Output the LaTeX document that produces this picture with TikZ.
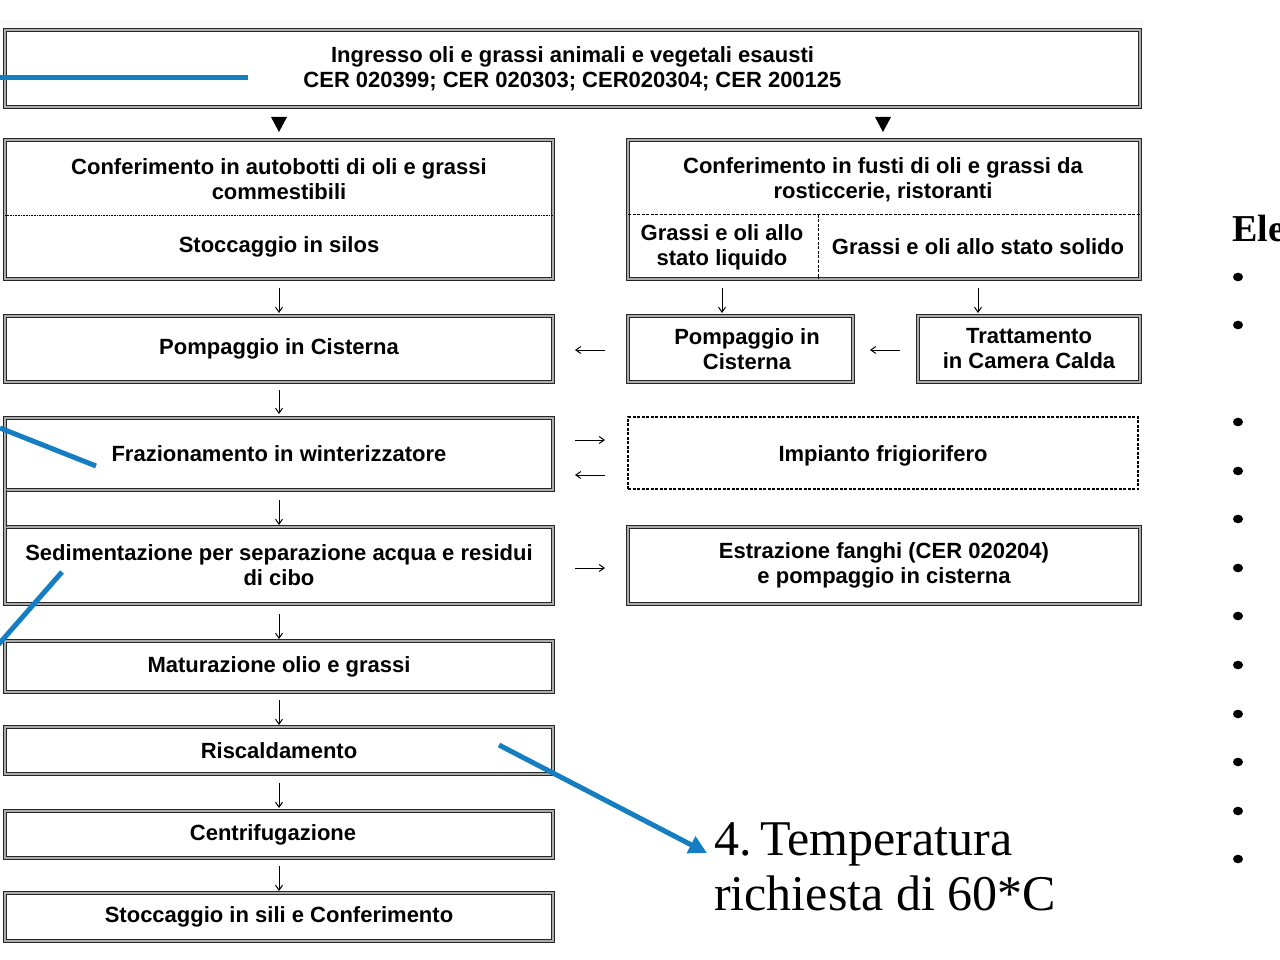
\documentclass[tikz,border=0pt]{standalone}
\usepackage{fontspec}
\newfontfamily\sansb{Liberation Sans}
\newfontfamily\serifa{Liberation Serif}
\usetikzlibrary{arrows.meta,calc}
\definecolor{annblue}{RGB}{21,125,193}
\begin{document}
\begin{tikzpicture}[x=1pt,y=-1pt,
  boxfont/.style={font=\sansb\bfseries\fontsize{22}{25}\selectfont},
  box/.style={draw=black!85, double=gray!65, double distance=1.3pt, line width=0.9pt, inner sep=0pt, outer sep=0pt, align=center, boxfont},
  dbox/.style={draw=black, dash pattern=on 3pt off 1.5pt, line width=1.1pt, inner sep=0pt, outer sep=0pt, align=center, boxfont},
  lbl/.style={boxfont, align=center, inner sep=0pt},
  flow/.style={-{Straight Barb[length=5pt,width=7pt]}, line width=1pt},
  divdot/.style={line width=0.8pt, dash pattern=on 1pt off 0.6pt},
  divdash/.style={line width=1pt, dash pattern=on 3pt off 1.5pt},
  bluel/.style={draw=annblue, line width=5pt},
  blt/.style={fill=black},
]
\useasboundingbox (0,0) rectangle (1280,960);
\clip (0,0) rectangle (1280,960);
\fill[gray!5] (0,20) rectangle (1143,29);

% boxes
\node[box, minimum width=1135pt, minimum height=77pt] (top) at (572.5,68.5)
  {Ingresso oli e grassi animali e vegetali esausti\\CER 020399; CER 020303; CER020304; CER 200125};
\node[box, minimum width=548pt, minimum height=139pt] (l1) at (279,209.5) {};
\node[lbl] (l1a) at (279,179.5) {Conferimento in autobotti di oli e grassi\\commestibili};
\node[lbl] (l1b) at (279,247) {Stoccaggio in silos};
\draw[divdot] ([yshift=-75pt]l1.north west) -- ([yshift=-75pt]l1.north east);

\node[box, minimum width=512pt, minimum height=139pt] (r1) at (884,209.5) {};
\node[lbl] (r1a) at (883,179.5) {Conferimento in fusti di oli e grassi da\\rosticcerie, ristoranti};
\node[lbl] (r1l) at (722,247.5) {Grassi e oli allo\\stato liquido};
\node[lbl] (r1s) at (978,247) {Grassi e oli allo stato solido};
\draw[divdash] ([yshift=-75pt]r1.north west) -- ([yshift=-75pt]r1.north east);
\coordinate (rdiv) at (818,215);
\draw[divdash] (rdiv) -- (rdiv |- r1.south);

\node[box, minimum width=548pt, minimum height=66pt] (pl) at (279,349) {Pompaggio in Cisterna};
\node[box, minimum width=225pt, minimum height=66pt] (pr) at (740.5,349) {};
\node[lbl] (prt) at (747,349.5) {Pompaggio in\\Cisterna};
\node[box, minimum width=222pt, minimum height=66pt] (tr) at (1029,349) {Trattamento\\in Camera Calda};

\node[box, minimum width=548pt, minimum height=72pt] (fr) at (279,454) {Frazionamento in winterizzatore};
\node[dbox, minimum width=510pt, minimum height=72pt] (fg) at (883,453) {};
\node[lbl] (fgt) at (883,456) {Impianto frigiorifero};

\node[box, minimum width=548pt, minimum height=77pt] (sd) at (279,565.5) {Sedimentazione per separazione acqua e residui\\di cibo};
\node[box, minimum width=512pt, minimum height=77pt] (ef) at (884,565.5) {Estrazione fanghi (CER 020204)\\e pompaggio in cisterna};

\node[box, minimum width=548pt, minimum height=51pt] (mt) at (279,666.5) {Maturazione olio e grassi};
\node[box, minimum width=548pt, minimum height=47pt] (rs) at (279,750.5) {Riscaldamento};
\node[box, minimum width=548pt, minimum height=47pt] (cf) at (279,834.5) {};
\node[lbl] (cft) at (273,835) {Centrifugazione};
\node[box, minimum width=548pt, minimum height=48pt] (st) at (279,917) {Stoccaggio in sili e Conferimento};

% left edge line between Frazionamento and Sedimentazione
\draw[draw=black!85, double=gray!65, double distance=1.3pt, line width=0.9pt] (fr.south west) -- (sd.north west);

% triangles from top box
\coordinate (t1) at (279,117);
\coordinate (t2) at (883,117);
\fill ($(t1)+(-8,0)$) -- ($(t1)+(8,0)$) -- ($(t1)+(0,15)$) -- cycle;
\fill ($(t2)+(-8,0)$) -- ($(t2)+(8,0)$) -- ($(t2)+(0,15)$) -- cycle;

% vertical flow arrows
\draw[flow, shorten <=9pt, shorten >=3pt] (l1.south) -- (pl.north);
\draw[flow, shorten <=8pt, shorten >=4pt] (pl.south) -- (fr.north);
\draw[flow, shorten <=10pt, shorten >=2pt] (fr.south) -- (sd.north);
\draw[flow, shorten <=10pt, shorten >=2pt] (sd.south) -- (mt.north);
\draw[flow, shorten <=8pt, shorten >=2pt] (mt.south) -- (rs.north);
\draw[flow, shorten <=9pt, shorten >=3pt] (rs.south) -- (cf.north);
\draw[flow, shorten <=8pt, shorten >=2pt] (cf.south) -- (st.north);
\coordinate (liq) at (722,279);
\coordinate (sol) at (978,279);
\draw[flow, shorten <=9pt, shorten >=3pt] (liq) -- (liq |- pr.north);
\draw[flow, shorten <=9pt, shorten >=3pt] (sol) -- (sol |- tr.north);

% horizontal flow arrows
\draw[flow, shorten <=23pt, shorten >=22pt] ([yshift=-1pt]pr.west) -- ([yshift=-1pt]pl.east);
\draw[flow, shorten <=18pt, shorten >=17pt] ([yshift=-1pt]tr.west) -- ([yshift=-1pt]pr.east);
\draw[flow, shorten <=22pt, shorten >=23pt] ([yshift=14pt]fr.east) -- ([yshift=13pt]fg.west);
\draw[flow, shorten <=23pt, shorten >=22pt] ([yshift=-22pt]fg.west) -- ([yshift=-21pt]fr.east);
\draw[flow, shorten <=22pt, shorten >=23pt] ([yshift=-2.5pt]sd.east) -- ([yshift=-2.5pt]ef.west);

% blue annotation lines
\coordinate (b1a) at (0,78);  \coordinate (b1b) at (248,78);
\coordinate (b2a) at (0,428); \coordinate (b2b) at (96,466);
\coordinate (b3a) at (62,572); \coordinate (b3b) at (-2,645);
\draw[bluel] (b1a) -- (b1b);
\draw[bluel] (b2a) -- (b2b);
\draw[bluel] (b3a) -- (b3b);
\coordinate (b4a) at (499,745);
\coordinate (b4b) at (707,853);
\draw[bluel, -{Triangle[length=18pt,width=18pt]}] (b4a) -- (b4b);
\node[font=\serifa\fontsize{50}{55}\selectfont, align=left, anchor=base west, inner sep=0pt] (ann) at (714,910)
  {4.\kern-4pt\ Temperatura\\richiesta di 60*C};

% right side partial list
\node[font=\serifa\bfseries\fontsize{38}{40}\selectfont, anchor=base west, inner sep=0pt] (ele) at (1232,242) {Ele};
\foreach \yy [count=\i] in {277,325,422,471,519,568,616,665,714,762,811,859}
  \fill[blt] (1238,\yy) ellipse [x radius=5pt, y radius=4.3pt];
\end{tikzpicture}
\end{document}
